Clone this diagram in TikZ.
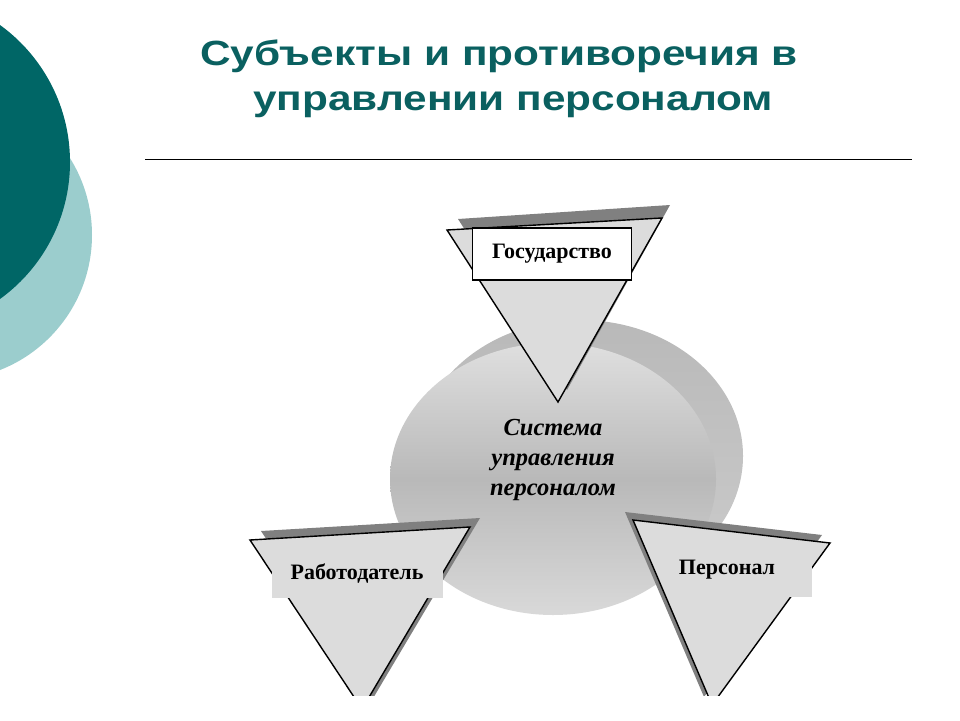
\documentclass[tikz,border=0pt]{standalone}
\usepackage{fontspec}
\setmainfont{Liberation Serif}
\newfontfamily\titlefont[FakeStretch=1.21]{Liberation Sans}
\definecolor{titleteal}{RGB}{10,96,96}
\definecolor{darkteal}{RGB}{0,102,102}
\definecolor{lightteal}{RGB}{155,205,205}
\definecolor{trifill}{RGB}{220,220,220}
\definecolor{trishadow}{RGB}{128,128,128}
\tikzset{
  titleline/.style={font=\titlefont\bfseries\fontsize{35}{45}\selectfont, text=titleteal, anchor=base west, inner sep=0pt},
  tri/.style={fill=trifill, draw=black, line width=1.4pt, line join=miter},
  trishade/.style={fill=trishadow},
  boxtext/.style={font=\bfseries\fontsize{22}{26}\selectfont, inner sep=0pt, minimum height=52pt}
}
\begin{document}
\begin{tikzpicture}[x=1pt,y=-1pt]
\useasboundingbox (0,0) rectangle (960,720);
\fill[lightteal] (-53,235) circle (145pt);
\fill[darkteal] (-99,162) circle (169pt);
\node[titleline] (t1) at (200,65) {Субъекты и противоречия в};
\node[titleline] (t2) at (253,110) {управлении персоналом};
\draw[line width=1pt] (145,159) coordinate (r1) -- (912,159) coordinate (r2);
% system ellipse
\shade[top color=gray!55, bottom color=gray!40] (580,456) ellipse [x radius=163pt, y radius=136pt];
\shade[top color=gray!25, bottom color=gray!30, middle color=gray!55] (553,479) ellipse [x radius=163pt, y radius=136pt];
\node[font=\bfseries\itshape\fontsize{24.5}{30}\selectfont, align=center] (sys) at (553,460) {Система\\управления\\персоналом};
% top triangle
\fill[trishade] (458,219) -- (670,205) -- (567,390) -- cycle;
\draw[tri] (447,230) -- (662,218) -- (558,402) -- cycle;
\node[boxtext, draw, fill=white, line width=1.2pt, minimum width=159pt] (gov) at (552,254) {Государство};
\begin{scope}
\clip (0,0) rectangle (960,695);
\fill[trishade] (261,531) -- (480,518) -- (372,700) -- cycle;
\draw[tri] (250,540) -- (470,527) -- (362,709) -- cycle;
\fill[trishade] (625,512) -- (822,535) -- (704,697) -- cycle;
\draw[tri] (633,520) -- (830,543) -- (712,705) -- cycle;
\end{scope}
\node[boxtext, fill=trifill, minimum width=171pt, minimum height=48pt] (emp) at (357,574) {Работодатель};
\fill[trifill] (680,545) rectangle (812,597);
\node[boxtext] (staff) at (727,570) {Персонал};
\end{tikzpicture}
\end{document}
